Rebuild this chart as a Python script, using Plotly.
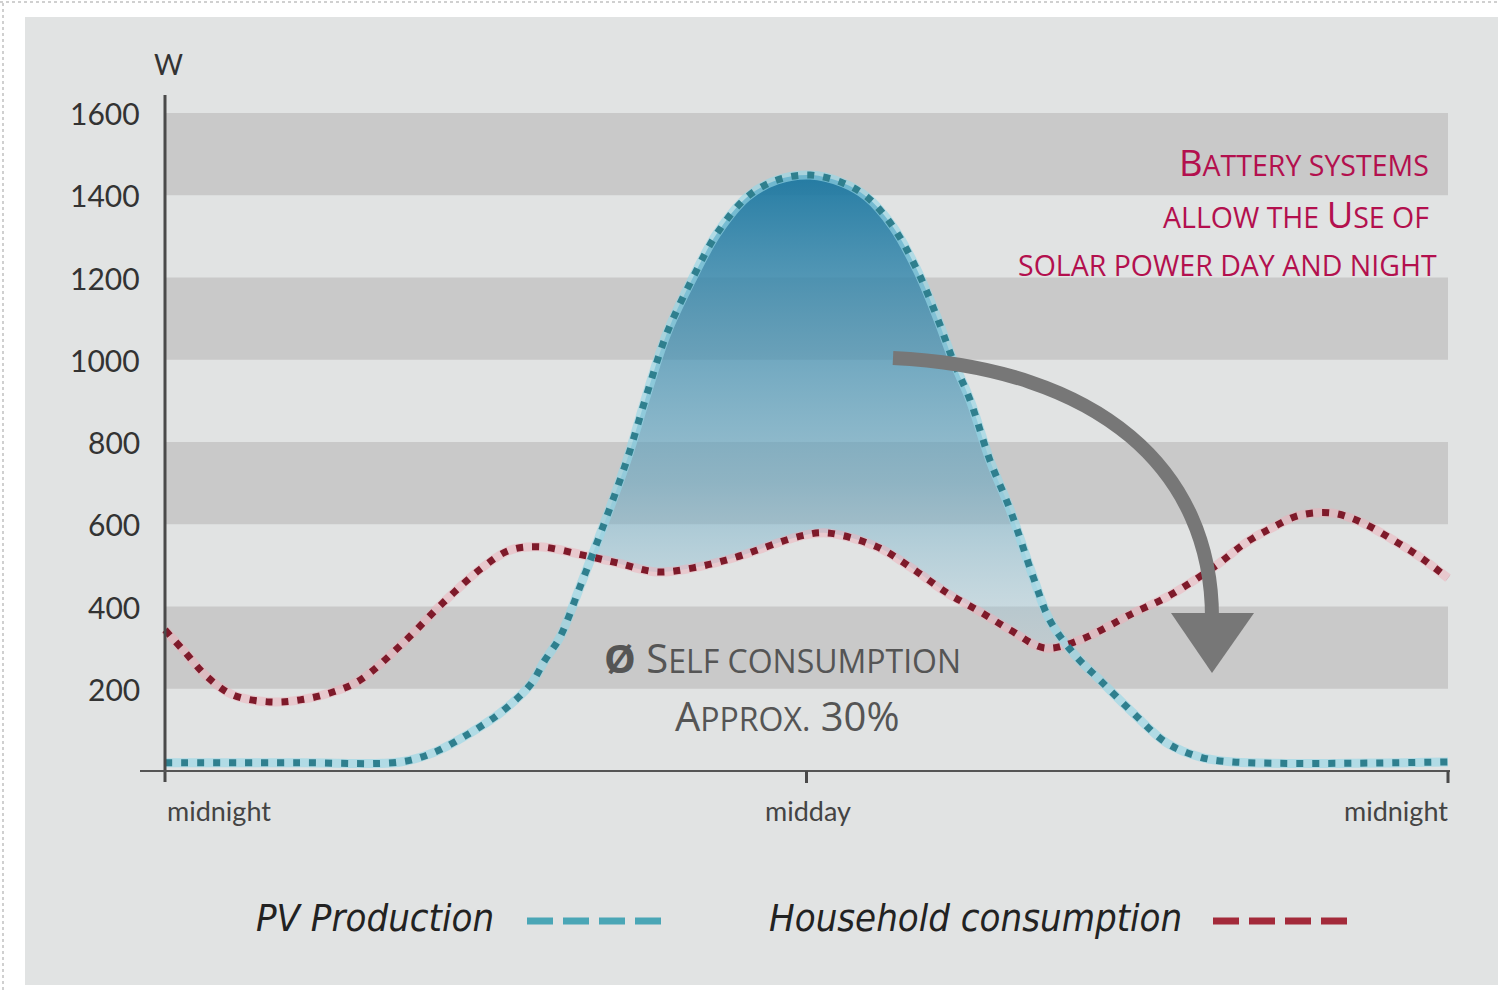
import numpy as np
import plotly.graph_objects as go

# ---------------- data ----------------
pv_hours = [0, 2.53, 4.40, 5.01, 5.52, 5.89, 6.27, 6.83, 7.11, 7.39, 7.76, 8.19, 8.64, 9.02, 9.39, 9.88,
            10.33, 10.89, 11.45, 12.07, 12.68, 13.13, 13.62, 14.07, 14.44, 14.74, 15.06,
            15.43, 15.81, 16.24, 16.55, 17.02, 17.49, 18.11, 18.74, 19.36, 19.98, 24]
pv_watts = [20, 20, 22, 44, 78, 107, 141, 209, 270, 326, 447, 593, 756, 919, 1065, 1201,
            1308, 1396, 1437, 1449, 1430, 1396, 1323, 1218, 1104, 999, 902,
            756, 635, 472, 367, 282, 221, 141, 68, 34, 22, 22]

hh_hours = [0, 0.34, 0.79, 1.27, 1.96, 2.53, 3.14, 3.65, 4.45, 5.20, 5.95, 6.45, 7.01, 7.82,
            8.46, 9.20, 9.88, 10.63, 11.88, 12.38, 13.32, 13.94, 14.63, 15.25, 15.81, 16.46,
            17.12, 18.11, 18.74, 19.60, 20.24, 20.73, 21.23, 21.85, 22.41, 22.97, 23.48, 24]
hh_watts = [343, 294, 229, 185, 168, 173, 192, 221, 311, 409, 496, 537, 545, 525,
            506, 484, 494, 518, 571, 579, 545, 496, 433, 387, 343, 299,
            319, 384, 423, 494, 557, 593, 622, 627, 603, 562, 520, 469]

y_tick_vals = [200, 400, 600, 800, 1000, 1200, 1400, 1600]
y_tick_text = ["200", "400", "600", "800", "1000", "1200", "1400", "1600"]
x_tick_vals = [0, 12, 24]
x_tick_text = ["midnight", "midday", "midnight"]
bands = [(200, 400), (600, 800), (1000, 1200), (1400, 1600)]
series_names = ["PV Production", "Household consumption"]

# ---------------- geometry helpers (pixel layout) ----------------
W_IMG, H_IMG = 1498, 990
L, R, T, B = 30, 1478, 30, 960
X0PX, K = 165.0, (1448 - 165) / 24.0     # px of hour 0, px per hour
Y0PX, S = 771.0, (771 - 113) / 1600.0     # px of 0 W, px per W


def hx(px):
    return (px - X0PX) / K


def wy(py):
    return (Y0PX - py) / S


def pxp(px):
    return (px - L) / (R - L)


def pyp(py):
    return (B - py) / (B - T)


# ---------------- fill region between curves ----------------
grid = np.linspace(0, 24, 4801)
d = np.interp(grid, pv_hours, pv_watts) - np.interp(grid, hh_hours, hh_watts)
idx = np.where(np.diff(np.sign(d)) != 0)[0]
lo, hi = grid[idx[0]], grid[idx[-1]]
ylo = float(np.interp(lo, pv_hours, pv_watts))
yhi = float(np.interp(hi, pv_hours, pv_watts))
fx = [lo] + [h for h in pv_hours if lo < h < hi] + [hi] + [h for h in hh_hours if lo < h < hi][::-1]
fy = [ylo] + [w for h, w in zip(pv_hours, pv_watts) if lo < h < hi] + [yhi] + \
     [w for h, w in zip(hh_hours, hh_watts) if lo < h < hi][::-1]

fig = go.Figure()

fig.add_trace(go.Scatter(
    x=fx, y=fy, mode="lines", line=dict(width=0, shape="spline"),
    fill="toself",
    fillgradient=dict(type="vertical",
                      colorscale=[[0, "rgba(165,208,224,0.25)"],
                                  [0.35, "rgba(95,162,190,0.55)"],
                                  [1, "rgba(26,118,160,0.94)"]]),
    hoverinfo="skip", showlegend=False))

DOT = "7px,9px"
# halos
fig.add_trace(go.Scatter(x=hh_hours, y=hh_watts, mode="lines",
                         line=dict(color="rgba(240,175,185,0.5)", width=9, shape="spline"),
                         hoverinfo="skip", showlegend=False))
fig.add_trace(go.Scatter(x=pv_hours, y=pv_watts, mode="lines",
                         line=dict(color="rgba(150,215,230,0.65)", width=9, shape="spline"),
                         hoverinfo="skip", showlegend=False))
# dotted curves
fig.add_trace(go.Scatter(x=hh_hours, y=hh_watts, mode="lines", name=series_names[1],
                         line=dict(color="#7e1a2a", width=7, dash=DOT, shape="spline"),
                         showlegend=False))
fig.add_trace(go.Scatter(x=pv_hours, y=pv_watts, mode="lines", name=series_names[0],
                         line=dict(color="#2f7f8e", width=7, dash=DOT, shape="spline"),
                         showlegend=False))

shapes = []
# gray panel and dotted border
shapes.append(dict(type="rect", xref="paper", yref="paper", layer="below",
                   x0=pxp(25), x1=pxp(W_IMG + 5), y0=pyp(985), y1=pyp(17),
                   fillcolor="#e1e3e3", line=dict(width=0)))
shapes.append(dict(type="line", xref="paper", yref="paper", layer="below",
                   x0=pxp(3), x1=pxp(3), y0=pyp(H_IMG), y1=pyp(0),
                   line=dict(color="#d0d0d0", width=2, dash="dot")))
shapes.append(dict(type="line", xref="paper", yref="paper", layer="below",
                   x0=pxp(0), x1=pxp(W_IMG), y0=pyp(2), y1=pyp(2),
                   line=dict(color="#d0d0d0", width=2, dash="dot")))
# bands
for b0, b1 in bands:
    shapes.append(dict(type="rect", xref="x", yref="y", layer="below",
                       x0=0, x1=24, y0=b0, y1=b1,
                       fillcolor="#c9c9c9", line=dict(width=0)))
# axes
shapes.append(dict(type="line", xref="x", yref="y", layer="above",
                   x0=0, x1=0, y0=wy(782), y1=wy(95),
                   line=dict(color="#4a4a4a", width=3)))
shapes.append(dict(type="line", xref="x", yref="y", layer="above",
                   x0=hx(140), x1=hx(1450), y0=0, y1=0,
                   line=dict(color="#555555", width=2)))
for xv in x_tick_vals[1:]:
    shapes.append(dict(type="line", xref="x", yref="y", layer="above",
                       x0=xv, x1=xv, y0=0, y1=wy(783),
                       line=dict(color="#4a4a4a", width=3)))
# arrow
a0 = (hx(893), wy(358))
a1 = (hx(1100), wy(368))
a2 = (hx(1212), wy(470))
a3 = (hx(1212), wy(618))
shapes.append(dict(type="path", xref="x", yref="y", layer="above",
                   path=f"M {a0[0]},{a0[1]} C {a1[0]},{a1[1]} {a2[0]},{a2[1]} {a3[0]},{a3[1]}",
                   line=dict(color="#777777", width=14)))
shapes.append(dict(type="path", xref="x", yref="y", layer="above",
                   path=f"M {hx(1171)},{wy(613)} L {hx(1254)},{wy(613)} L {hx(1212)},{wy(673)} Z",
                   fillcolor="#777777", line=dict(width=0)))
# legend dashes
shapes.append(dict(type="line", xref="x", yref="y", layer="above",
                   x0=hx(527), x1=hx(661), y0=wy(921), y1=wy(921),
                   line=dict(color="#4aa6b6", width=7, dash="26px,10px")))
shapes.append(dict(type="line", xref="x", yref="y", layer="above",
                   x0=hx(1213), x1=hx(1347), y0=wy(921), y1=wy(921),
                   line=dict(color="#a32a3a", width=7, dash="26px,10px")))

annotations = []
TICKFONT = dict(family="Lato, DejaVu Sans, sans-serif", size=30, color="#333333")
for v, t in zip(y_tick_vals, y_tick_text):
    annotations.append(dict(x=hx(142), y=v, xref="x", yref="y", text=t, showarrow=False,
                            xanchor="right", yanchor="middle", font=TICKFONT))
annotations.append(dict(x=hx(168), y=wy(64), xref="x", yref="y", text="W", showarrow=False,
                        xanchor="center", yanchor="middle",
                        font=dict(family="Lato, sans-serif", size=28, color="#333333")))
XFONT = dict(family="Lato, DejaVu Sans, sans-serif", size=27, color="#444444")
for xv, t, anc in zip(x_tick_vals, x_tick_text, ["left", "center", "right"]):
    annotations.append(dict(x=xv + (hx(1450) - 24 if anc == "right" else (hx(808) - 12 if anc == "center" else 0)),
                            y=wy(810), xref="x", yref="y", text=t, showarrow=False,
                            xanchor=anc, yanchor="middle", font=XFONT))

RED = "#b3104e"
BIG, SMALL = 36.5, 28.5


def sc(big, small):
    return f"{big}<span style='font-size:{SMALL}px'>{small}</span>"


OS = "Open Sans, Noto Sans, sans-serif"
annotations.append(dict(x=hx(1431), y=wy(162), xref="x", yref="y", showarrow=False,
                        text=sc("B", "ATTERY SYSTEMS"), xanchor="right", yanchor="middle",
                        font=dict(family=OS, size=BIG, color=RED)))
annotations.append(dict(x=hx(1431), y=wy(214), xref="x", yref="y", showarrow=False,
                        text=f"<span style='font-size:{SMALL}px'>ALLOW THE </span>U<span style='font-size:{SMALL}px'>SE OF</span>",
                        xanchor="right", yanchor="middle",
                        font=dict(family=OS, size=BIG, color=RED)))
annotations.append(dict(x=hx(1439), y=wy(265), xref="x", yref="y", showarrow=False,
                        text="SOLAR POWER DAY AND NIGHT", xanchor="right", yanchor="middle",
                        font=dict(family=OS, size=SMALL, color=RED)))
GRAY = "#555555"
annotations.append(dict(x=hx(782), y=wy(657), xref="x", yref="y", showarrow=False,
                        text="<b>Ø</b> S<span style='font-size:32px'>ELF CONSUMPTION</span>",
                        xanchor="center", yanchor="middle",
                        font=dict(family=OS, size=40, color=GRAY)))
annotations.append(dict(x=hx(787), y=wy(715), xref="x", yref="y", showarrow=False,
                        text="A<span style='font-size:32px'>PPROX.</span> 30%",
                        xanchor="center", yanchor="middle",
                        font=dict(family=OS, size=40, color=GRAY)))
LEGFONT = dict(family="Liberation Sans Narrow, DejaVu Sans Condensed, sans-serif", size=38, color="#222222")
annotations.append(dict(x=hx(254), y=wy(918), xref="x", yref="y", showarrow=False,
                        text=f"<i>{series_names[0]}</i>", xanchor="left", yanchor="middle", font=LEGFONT))
annotations.append(dict(x=hx(767), y=wy(918), xref="x", yref="y", showarrow=False,
                        text=f"<i>{series_names[1]}</i>", xanchor="left", yanchor="middle", font=LEGFONT))

fig.update_layout(
    width=W_IMG, height=H_IMG,
    margin=dict(l=L, r=W_IMG - R, t=T, b=H_IMG - B, pad=0),
    paper_bgcolor="#ffffff", plot_bgcolor="rgba(0,0,0,0)",
    xaxis=dict(range=[hx(L), hx(R)], visible=False, fixedrange=True),
    yaxis=dict(range=[wy(B), wy(T)], visible=False, fixedrange=True),
    shapes=shapes, annotations=annotations, showlegend=False,
)

fig.write_html("out.html", config={"displayModeBar": False},
               post_script="document.body.style.margin='0';document.body.style.overflow='hidden';")
